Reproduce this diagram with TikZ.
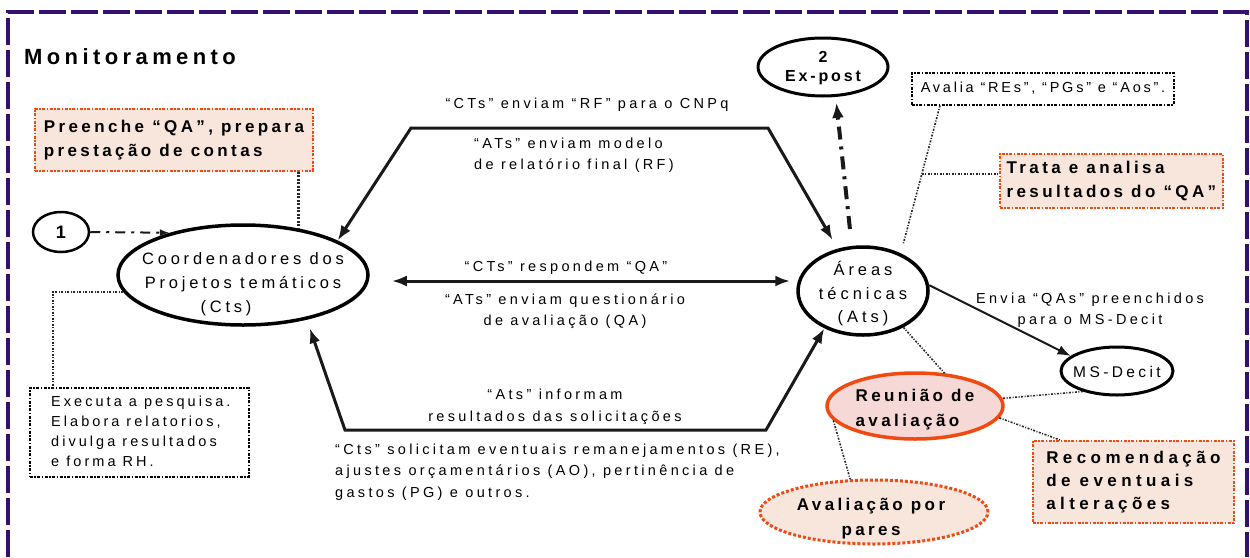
\documentclass[tikz,border=0pt]{standalone}
\usepackage{fontspec}
\setmainfont{Liberation Sans}
\usetikzlibrary{arrows.meta,calc,shapes.geometric}
\definecolor{bpurple}{HTML}{36106E}
\definecolor{org}{HTML}{EE4A12}
\definecolor{peach}{HTML}{F8E6DD}
\definecolor{pinkf}{HTML}{F6D9D6}
\tikzset{
  border/.style={draw=bpurple, line width=4pt, dash pattern=on 27pt off 5pt},
  title/.style={inner sep=0pt, font={\fontsize{22}{25}\selectfont\bfseries\addfontfeature{LetterSpace=20}}},
  lab/.style={inner sep=0pt, font={\fontsize{14.5}{21.5}\selectfont\addfontfeature{LetterSpace=23}}},
  etext/.style={inner sep=0pt, align=center, font={\fontsize{16.5}{24}\selectfont\addfontfeature{LetterSpace=23}}},
  btext/.style={inner sep=0pt, align=center, font={\fontsize{17}{25}\selectfont\bfseries\addfontfeature{LetterSpace=20}}},
  ell/.style={ellipse, draw=black, line width=3.5pt, inner sep=0pt},
  obox/.style={rectangle, draw=org, fill=peach, line width=1.8pt, dash pattern=on 3pt off 1.5pt on 1.5pt off 1.5pt, inner sep=0pt, align=left,
     font={\fontsize{17}{24.5}\selectfont\bfseries\addfontfeature{LetterSpace=20}}},
  dbox/.style={rectangle, draw=black, line width=1.6pt, dash pattern=on 3pt off 1.5pt on 1.5pt off 1.5pt, inner sep=0pt},
  conn/.style={draw=black!90, line width=3pt, line join=miter},
  bitip/.style={{Latex[length=15pt,width=11pt]}-{Latex[length=15pt,width=11pt]}},
  dotc/.style={draw=black!85, line width=1.6pt, dash pattern=on 2pt off 1.5pt on 1pt off 1.5pt},
  dotthick/.style={draw=black!85, line width=3pt, dash pattern=on 2pt off 1.5pt},
}
\begin{document}
\begin{tikzpicture}[x=1pt,y=-1pt]
\useasboundingbox (0,0) rectangle (1250,557);
\draw[border] (8,557) -- (8,12) -- (1247,12) -- (1247,557);

\node[title, anchor=west] (title) at (24,57) {Monitoramento};

% ellipses
\node[ell, minimum width=250, minimum height=100] (cts) at (243,275) {};
\node[etext] (ctsT) at (243,284) {Coordenadores dos\\Projetos temáticos\\\hspace*{-34pt}(Cts)};
\node[ell, line width=2.5pt, minimum width=56, minimum height=40, font=\fontsize{18}{20}\selectfont\bfseries] (one) at (61,232) {1};
\node[ell, minimum width=130, minimum height=88] (ats) at (863,291) {};
\node[etext, font={\fontsize{16.5}{23.5}\selectfont\addfontfeature{LetterSpace=24}}] (atsT) at (863,294) {Áreas\\técnicas\\(Ats)};
\node[ell, line width=3pt, minimum width=130, minimum height=58] (exp) at (823,67) {};
\node[btext, font={\fontsize{16}{19}\selectfont\bfseries\addfontfeature{LetterSpace=18}}] (expT) at (823,68) {2\\Ex-post};
\node[ell, line width=3pt, minimum width=112, minimum height=48] (msd) at (1117,371) {};
\node[lab, font={\fontsize{15.5}{20}\selectfont\addfontfeature{LetterSpace=22}}] (msdT) at (1117,372) {MS-Decit};
\node[ell, draw=org, fill=pinkf, line width=3.5pt, minimum width=176, minimum height=66] (reu) at (915,406) {};
\node[btext, align=left] (reuT) at (915,410) {Reunião de\\avaliação};
\node[ell, draw=org, fill=peach, line width=3pt, dash pattern=on 3pt off 2pt, minimum width=228, minimum height=64] (ava) at (874,512) {};
\node[btext] (avaT) at (871,519) {Avaliação por\\pares};

% boxes
\node[obox, minimum width=278, minimum height=62, anchor=north west] (pre) at (34,108) {Preenche “QA”, prepara\\prestação de contas};
\node[obox, minimum width=223, minimum height=54, anchor=north west] (tra) at (999,153) {Trata e analisa\\resultados do “QA”};
\node[obox, minimum width=201, minimum height=82, anchor=north west, font={\fontsize{17}{23}\selectfont\bfseries\addfontfeature{LetterSpace=26}}] (rec) at (1032,440) {Recomendação\\de eventuais\\alterações};
\node[dbox, minimum width=262, minimum height=32, anchor=north west] (avl) at (911,72) {};
\node[lab, font={\fontsize{14.5}{21.5}\selectfont\addfontfeature{LetterSpace=19}}] (avlT) at (1043,88) {Avalia “REs”, “PGs” e “Aos”.};
\node[dbox, minimum width=219, minimum height=89, anchor=north west] (exe) at (29,387) {};
\node[lab, align=left, anchor=west, font={\fontsize{14.5}{20}\selectfont\addfontfeature{LetterSpace=21}}] (exeT) at (51,431) {Executa a pesquisa.\\Elabora relatorios,\\divulga resultados\\e forma RH.};

% labels
\node[lab] (l1) at (587,105) {“CTs” enviam “RF” para o CNPq};
\node[lab, align=left] (l2) at (574,155) {“ATs” enviam modelo\\de relatório final (RF)};
\node[lab] (l3) at (566,268) {“CTs” respondem “QA”};
\node[lab, align=center] (l4) at (565,311) {“ATs” enviam questionário\\de avaliação (QA)};
\node[lab, align=center] (l5) at (555,407) {“Ats” informam\\resultados das solicitações};
\node[lab, align=left, anchor=west] (l6) at (335,472) {“Cts” solicitam eventuais remanejamentos (RE),\\ajustes orçamentários (AO), pertinência de\\gastos (PG) e outros.};
\node[lab, align=center] (l7) at (1090,310) {Envia “QAs” preenchidos\\para o MS-Decit};

% main connectors
\coordinate (a1) at (411,128);
\coordinate (a2) at (768,128);
\draw[conn, bitip, shorten >=10pt] (cts.20) -- (a1) -- (a2) -- (ats.121);
\draw[conn, bitip, shorten <=22pt, shorten >=6pt] ([yshift=-6pt]cts.east) -- ([yshift=10pt]ats.west);
\coordinate (b1) at (345,430);
\coordinate (b2) at (766,430);
\draw[conn, bitip, shorten <=9pt] (cts.-35) -- (b1) -- (b2) -- (ats.-136);
\draw[draw=black!90, line width=4pt, dash pattern=on 13pt off 7pt on 3pt off 7pt, -{Latex[length=15pt,width=12pt]}, shorten <=17pt, shorten >=6pt] (ats.104) -- (exp.-67);
\draw[draw=black!90, line width=2pt, dash pattern=on 10pt off 6pt on 3pt off 6pt, -{Latex[length=10pt,width=7pt]}] (one.east) -- (cts.150);
\draw[draw=black!90, line width=2pt, -{Latex[length=13pt,width=10pt]}] (ats.5) -- (msd.162);

% dotted connectors
\draw[dotthick] (pre.south -| cts.40) -- (cts.40);
\draw[dotc] (cts.-172) -| ([xshift=24pt]exe.north west);
\coordinate (avs) at ([xshift=29pt]avl.south west);
\draw[dotc, shorten >=10pt] (avs) -- (ats.45);
\coordinate (j) at ($(avs)!0.465!(ats.45)$);
\draw[dotc] (j) -- (j -| tra.west);
\draw[dotc] (ats.-42) -- (reu.48);
\draw[dotc] (msd.-149) -- (reu.5);
\draw[dotc] (reu.-8) -- ([xshift=28pt]rec.north west);
\draw[dotc] (reu.-170) -- (ava.126);
\end{tikzpicture}
\end{document}
